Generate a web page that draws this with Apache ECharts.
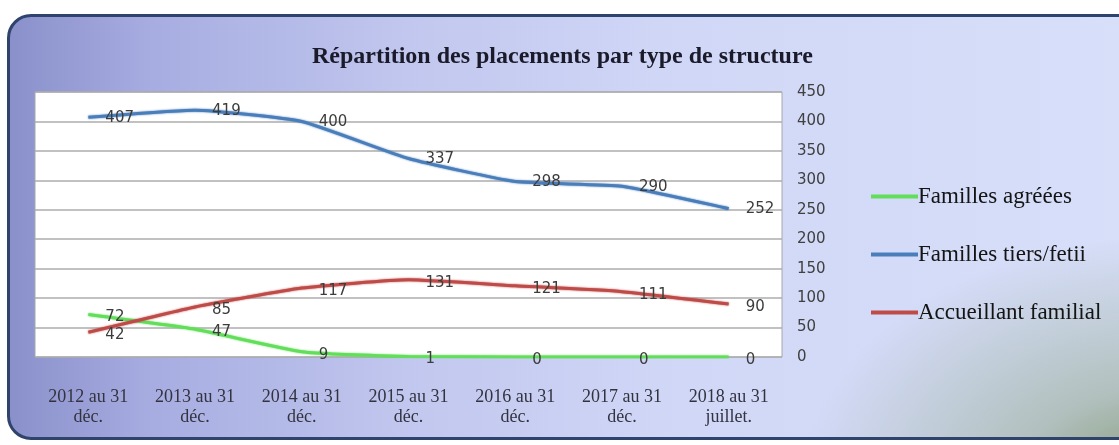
<!DOCTYPE html>
<html>
<head>
<meta charset="utf-8">
<script src="https://cdn.jsdelivr.net/npm/echarts@6/dist/echarts.min.js"></script>
<style>
  html, body { margin: 0; padding: 0; background: #ffffff; }
  #wrap { position: relative; width: 1119px; height: 445px; overflow: hidden; }
  #panel {
    position: absolute; left: 7px; top: 14px; width: 1140px; height: 426px;
    box-sizing: border-box;
    border: 3px solid #2f436c; border-radius: 24px;
    background:
      radial-gradient(ellipse 360px 250px at 1150px 470px, rgba(125,148,110,0.95) 0%, rgba(165,182,170,0.75) 40%, rgba(214,222,249,0) 100%),
      linear-gradient(90deg, #8a90ca 0%, #a6ace0 12%, #c1c7ee 35%, #d1d8f7 60%, #d7dff9 100%);
  }
  #chart { position: absolute; left: 0; top: 0; width: 1119px; height: 445px; }
</style>
</head>
<body>
<div id="wrap">
  <div id="panel"></div>
  <div id="chart"></div>
</div>
<script>
// Périodes (libellés de l'axe horizontal)
const categories = [
  "2012 au 31\ndéc.", "2013 au 31\ndéc.", "2014 au 31\ndéc.", "2015 au 31\ndéc.",
  "2016 au 31\ndéc.", "2017 au 31\ndéc.", "2018 au 31\njuillet."
];

// Nombre de placements par type de structure
const famillesAgreees = [72, 47, 9, 1, 0, 0, 0];
const famillesTiersFetii = [407, 419, 400, 337, 298, 290, 252];
const accueillantFamilial = [42, 85, 117, 131, 121, 111, 90];

const seriesNames = ["Familles agréées", "Familles tiers/fetii", "Accueillant familial"];
const seriesColors = ["#62de5a", "#4a7ebb", "#be4b48"];
const seriesData = [famillesAgreees, famillesTiersFetii, accueillantFamilial];

// Graduations de l'axe vertical
const yMin = 0, yMax = 450, yStep = 50;

const chart = echarts.init(document.getElementById("chart"), null, { renderer: "canvas" });

const series = seriesData.map((data, i) => ({
  name: seriesNames[i],
  type: "line",
  data: data,
  smooth: 0.15,
  symbol: "circle",
  symbolSize: 2,
  showSymbol: true,
  itemStyle: { color: "rgba(0,0,0,0)" },
  lineStyle: {
    color: seriesColors[i], width: 3,
    shadowColor: seriesColors[i], shadowBlur: 2
  },
  label: {
    show: true, position: "right", distance: 16, offset: [0, i === 1 ? 1 : 3],
    fontFamily: "DejaVu Sans", fontSize: 15, color: "#3c3c3c"
  },
  z: i === 0 ? 1 : 2
}));

chart.setOption({
  animation: false,
  backgroundColor: "transparent",
  title: {
    text: "Répartition des placements par type de structure",
    left: 307, top: 40,
    textStyle: { fontFamily: "Liberation Serif", fontWeight: "bold", fontSize: 24, color: "#1a1a2a" }
  },
  grid: {
    left: 35, right: 337, top: 92, bottom: 88,
    show: true, backgroundColor: "#ffffff", borderColor: "#a8a8a8", borderWidth: 1
  },
  legend: {
    orient: "vertical", left: 866, top: 179,
    itemWidth: 47, itemHeight: 4, itemGap: 33,
    icon: "rect",
    data: seriesNames.map((n, i) => ({ name: n, itemStyle: { color: seriesColors[i], opacity: 1 } })),
    textStyle: { fontFamily: "Liberation Serif", fontSize: 23, color: "#141414", lineHeight: 25, padding: [0, 0, 0, -5] }
  },
  xAxis: {
    type: "category",
    data: categories,
    boundaryGap: true,
    axisLine: { show: false },
    axisTick: { show: false },
    axisLabel: {
      margin: 30, interval: 0,
      fontFamily: "Liberation Serif", fontSize: 18, lineHeight: 20, color: "#333340"
    }
  },
  yAxis: {
    type: "value", position: "right",
    min: yMin, max: yMax, interval: yStep,
    axisLine: { show: false },
    axisTick: { show: false },
    splitLine: { lineStyle: { color: "#acacac", width: 1.5 } },
    axisLabel: { margin: 15, fontFamily: "DejaVu Sans", fontSize: 15, color: "#404040" }
  },
  series: series
});
</script>
</body>
</html>
